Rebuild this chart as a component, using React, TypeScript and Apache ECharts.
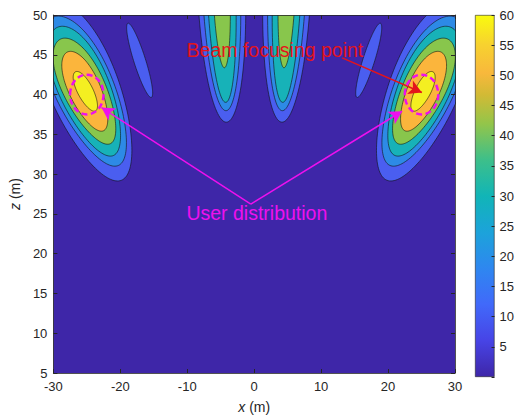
import React, { useEffect, useRef } from 'react';
import * as echarts from 'echarts';

// ---- axes ----
const xRange = [-30, 30];
const zRange = [5, 50];
const colorRange = [0, 60];

// ---- colours of the filled contour bands (level 1 .. 6) ----
const backgroundColor = '#3e26a8';
const bandColors = ['#4a5ef0', '#2d8ae6', '#17b2b8', '#88c64c', '#fbb53c', '#f4ef21'];

// parula colour bar stops
const colorbarStops = [
  [0.0, '#3e26a8'],
  [0.1, '#4744e6'],
  [0.2, '#4169fa'],
  [0.3, '#2e87f0'],
  [0.4, '#1ca3da'],
  [0.5, '#11b5b7'],
  [0.6, '#3dbf8a'],
  [0.7, '#93c54a'],
  [0.78, '#d2ba35'],
  [0.84, '#f8b83c'],
  [0.92, '#f7d22f'],
  [1.0, '#f9fb0e'],
];

// contour rings: [level, centreX, centreZ, lowerTipX, lowerTipZ, halfWidth(x units), topWidening]
const leftMainLobe = [
  [1, -25.2, 40.4, -19.83, 29.23, 5.2, 0.12],
  [2, -25.2, 40.4, -20.28, 31.09, 4.4, 0.12],
  [3, -25.2, 40.4, -21.02, 32.34, 3.8, 0.12],
  [4, -25.2, 40.4, -21.47, 33.83, 3.15, 0.12],
  [5, -25.2, 40.4, -22.51, 35.45, 2.35, 0.1],
  [6, -25.2, 40.4, -23.7, 37.94, 1.15, 0.05],
];
const rightMainLobe = [
  [1, 25.2, 40.4, 19.83, 29.23, 5.2, 0.12],
  [2, 25.2, 40.4, 20.28, 31.09, 4.4, 0.12],
  [3, 25.2, 40.4, 21.02, 32.34, 3.8, 0.12],
  [4, 25.2, 40.4, 21.47, 33.83, 3.15, 0.12],
  [5, 25.2, 40.4, 22.51, 35.45, 2.35, 0.1],
  [6, 25.2, 40.4, 23.7, 37.94, 1.15, 0.05],
];
const leftCentreLobe = [
  [1, -4.95, 54.35, -4.14, 36.53, 3.6, 0],
  [2, -4.95, 54.35, -4.2, 37.97, 2.85, 0],
  [3, -4.95, 54.35, -4.25, 39.02, 2.15, 0],
  [4, -4.95, 54.35, -4.45, 43.37, 1.3, 0],
];
const rightCentreLobe = [
  [1, 4.95, 54.35, 4.14, 36.53, 3.6, 0],
  [2, 4.95, 54.35, 4.2, 37.97, 2.85, 0],
  [3, 4.95, 54.35, 4.25, 39.02, 2.15, 0],
  [4, 4.95, 54.35, 4.45, 43.37, 1.3, 0],
];
const leftSideLobe = [[1, -17.11, 44.3, -15.36, 39.64, 0.88, 0]];
const rightSideLobe = [[1, 17.11, 44.3, 15.36, 39.64, 0.88, 0]];

// ---- annotations ----
const userPoints = [
  [-25, 40, 2.5],
  [25, 40, 2.5],
];
const beamArrow = [[13.15, 44.61], [25.05, 40.26]];
const userArrowApex = [-0.5, 26.24];
const userArrowTips = [[-22.8, 38.37], [22.1, 37.9]];
const texts = [
  { text: 'Beam focusing point', pos: [3.1, 45.6], color: '#e4141b' },
  { text: 'User distribution', pos: [0.4, 25.1], color: '#ee10ee' },
];

const FONT = 'Liberation Sans, Arial, Helvetica, sans-serif';
const AXIS_COLOR = '#262626';

export default function App() {
  const ref = useRef<HTMLDivElement>(null);
  useEffect(() => {
    const chart = echarts.init(ref.current!, undefined, { renderer: 'svg' });
    const contours = [
      ...leftMainLobe,
      ...rightMainLobe,
      ...leftCentreLobe,
      ...rightCentreLobe,
      ...leftSideLobe,
      ...rightSideLobe,
    ];

    const gradient = new echarts.graphic.LinearGradient(
      0, 1, 0, 0,
      colorbarStops.map(([offset, color]) => ({ offset: offset as number, color: color as string }))
    );

    const lineRed = { color: '#e4141b', width: 1.5, type: 'solid' };
    const lineMag = { color: '#ee10ee', width: 1.5, type: 'solid' };

    chart.setOption({
      animation: false,
      grid: [
        { left: 52, top: 15, width: 403, height: 362, show: true, backgroundColor, borderWidth: 0 },
        { left: 475, top: 15, width: 22, height: 362 },
      ],
      xAxis: [
        {
          gridIndex: 0, type: 'value', min: xRange[0], max: xRange[1], interval: 10, position: 'bottom', z: 10,
          axisLine: { show: true, onZero: false, lineStyle: { color: AXIS_COLOR, width: 0.8 } },
          axisTick: { show: true, inside: true, length: 4, lineStyle: { color: AXIS_COLOR } },
          axisLabel: { color: AXIS_COLOR, fontSize: 13, fontFamily: FONT, margin: 7 },
          splitLine: { show: false },
          name: '{i|x} (m)', nameLocation: 'middle', nameGap: 27,
          nameTextStyle: { color: AXIS_COLOR, fontSize: 14, fontFamily: FONT, rich: { i: { fontStyle: 'italic', fontSize: 14, fontFamily: FONT, color: AXIS_COLOR } } },
        },
        {
          gridIndex: 0, type: 'value', min: xRange[0], max: xRange[1], interval: 10, position: 'top', z: 10,
          axisLine: { show: true, onZero: false, lineStyle: { color: AXIS_COLOR, width: 0.8 } },
          axisTick: { show: true, inside: true, length: 4, lineStyle: { color: AXIS_COLOR } },
          axisLabel: { show: false }, splitLine: { show: false },
        },
        { gridIndex: 1, type: 'category', data: [''], show: false },
      ],
      yAxis: [
        {
          gridIndex: 0, type: 'value', min: zRange[0], max: zRange[1], interval: 5, position: 'left', z: 10,
          axisLine: { show: true, onZero: false, lineStyle: { color: AXIS_COLOR, width: 0.8 } },
          axisTick: { show: true, inside: true, length: 4, lineStyle: { color: AXIS_COLOR } },
          axisLabel: { color: AXIS_COLOR, fontSize: 13, fontFamily: FONT, margin: 6 },
          splitLine: { show: false },
          name: '{i|z} (m)', nameLocation: 'middle', nameGap: 31,
          nameTextStyle: { color: AXIS_COLOR, fontSize: 14, fontFamily: FONT, rich: { i: { fontStyle: 'italic', fontSize: 14, fontFamily: FONT, color: AXIS_COLOR } } },
        },
        {
          gridIndex: 0, type: 'value', min: zRange[0], max: zRange[1], interval: 5, position: 'right', z: 10,
          axisLine: { show: true, onZero: false, lineStyle: { color: AXIS_COLOR, width: 0.8 } },
          axisTick: { show: true, inside: true, length: 4, lineStyle: { color: AXIS_COLOR } },
          axisLabel: { show: false }, splitLine: { show: false },
        },
        {
          gridIndex: 1, type: 'value', min: colorRange[0], max: colorRange[1], interval: 5, position: 'right', z: 10,
          axisLine: { show: false },
          axisTick: { show: true, inside: true, length: 3, lineStyle: { color: AXIS_COLOR } },
          axisLabel: { color: AXIS_COLOR, fontSize: 13, fontFamily: FONT, margin: 5, formatter: (v: number) => (v === 0 ? '' : String(v)) },
          splitLine: { show: false },
        },
      ],
      series: [
        {
          type: 'custom',
          xAxisIndex: 0, yAxisIndex: 0,
          clip: true,
          silent: true,
          data: contours,
          renderItem: (params: any, api: any) => {
            const lvl = api.value(0);
            const c = api.coord([api.value(1), api.value(2)]);
            const t = api.coord([api.value(3), api.value(4)]);
            const mx = t[0] - c[0];
            const my = t[1] - c[1];
            const L = Math.hypot(mx, my) || 1;
            const px = -my / L;
            const py = mx / L;
            const w = api.size([api.value(5), 0])[0];
            const k = api.value(6) || 0;
            const pts: number[][] = [];
            const n = 140;
            for (let i = 0; i < n; i++) {
              const a = (i / n) * Math.PI * 2;
              const ww = w * (1 - k * Math.cos(a));
              pts.push([
                c[0] + mx * Math.cos(a) + px * ww * Math.sin(a),
                c[1] + my * Math.cos(a) + py * ww * Math.sin(a),
              ]);
            }
            return {
              type: 'polygon',
              shape: { points: pts },
              style: { fill: bandColors[lvl - 1], stroke: '#111', lineWidth: 0.6 },
            };
          },
        },
        {
          type: 'custom',
          xAxisIndex: 0, yAxisIndex: 0,
          silent: true,
          z: 5,
          data: userPoints,
          renderItem: (params: any, api: any) => {
            const c = api.coord([api.value(0), api.value(1)]);
            const r = api.value(2);
            const rx = api.size([r, 0])[0];
            const ry = api.size([0, r])[1];
            return {
              type: 'ellipse',
              shape: { cx: c[0], cy: c[1], rx, ry },
              style: { fill: 'none', stroke: '#ee10ee', lineWidth: 2.5, lineDash: [6, 3.5] },
            };
          },
          markLine: {
            silent: true,
            symbol: ['none', 'arrow'],
            symbolSize: [11, 13],
            label: { show: false },
            data: [
              [
                { coord: beamArrow[0], lineStyle: lineRed, itemStyle: { color: '#e4141b' } },
                { coord: beamArrow[1], lineStyle: lineRed, itemStyle: { color: '#e4141b' } },
              ],
              ...userArrowTips.map((tip) => [
                { coord: userArrowApex, lineStyle: lineMag, itemStyle: { color: '#ee10ee' } },
                { coord: tip, lineStyle: lineMag, itemStyle: { color: '#ee10ee' } },
              ]),
            ],
          },
        },
        {
          type: 'custom',
          xAxisIndex: 0, yAxisIndex: 0,
          silent: true,
          z: 6,
          data: texts.map((t, i) => [t.pos[0], t.pos[1], i]),
          renderItem: (params: any, api: any) => {
            const c = api.coord([api.value(0), api.value(1)]);
            const item = texts[api.value(2)];
            return {
              type: 'text',
              x: c[0],
              y: c[1],
              style: {
                text: item.text,
                fill: item.color,
                fontSize: 19.5,
                fontFamily: FONT,
                align: 'center',
                verticalAlign: 'middle',
              },
            };
          },
        },
        {
          type: 'bar',
          xAxisIndex: 2, yAxisIndex: 2,
          silent: true,
          barWidth: '100%',
          data: [colorRange[1]],
          itemStyle: { color: gradient, borderColor: AXIS_COLOR, borderWidth: 0.6 },
        },
      ],
    });
    return () => chart.dispose();
  }, []);

  return (
    <div
      ref={ref}
      style={{ position: 'fixed', left: 0, top: 0, width: 517, height: 419, background: '#fff' }}
    />
  );
}
